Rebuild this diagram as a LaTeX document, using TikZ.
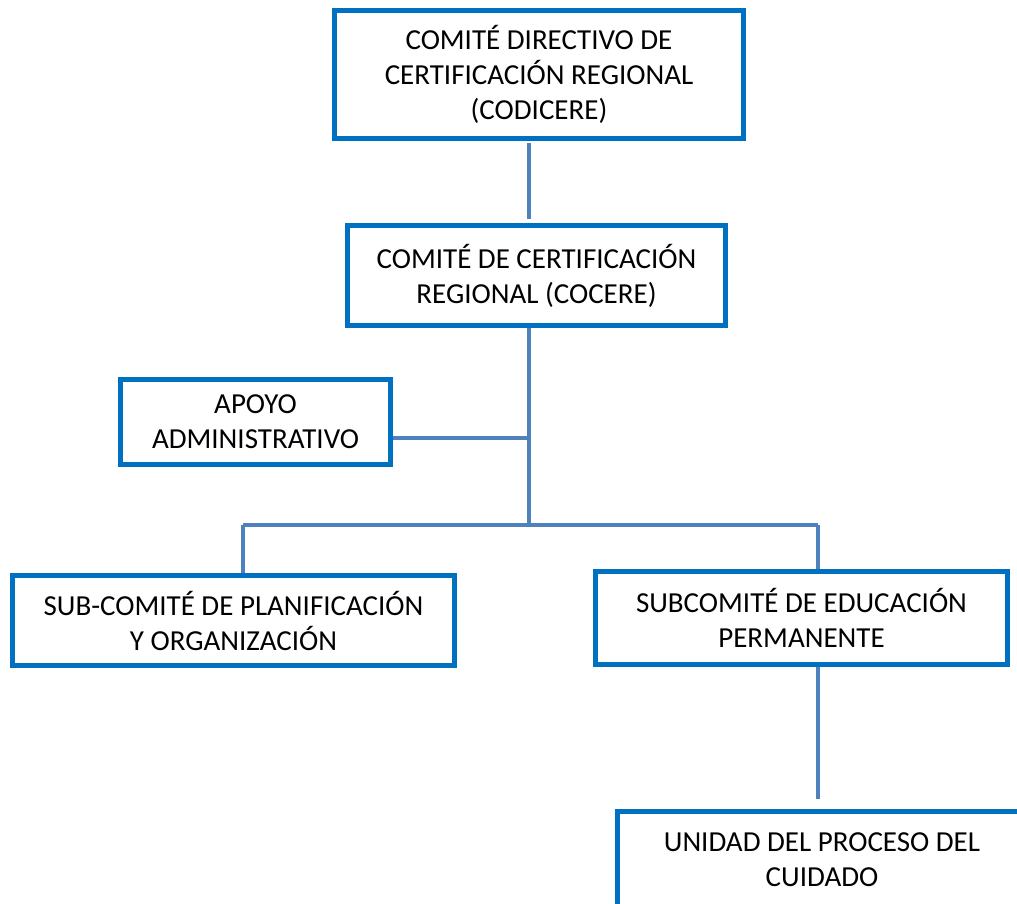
\documentclass[tikz,border=0pt]{standalone}
\usepackage{fontspec}
\setmainfont{Carlito}
\definecolor{boxblue}{HTML}{0070C0}
\definecolor{linkblue}{HTML}{4F81BD}
\tikzset{
  orgbox/.style={draw=boxblue, line width=5pt, fill=white, rectangle, align=center,
    inner sep=0pt, font=\fontsize{29}{35}\selectfont},
  link/.style={draw=linkblue, line width=3.5pt}
}
\begin{document}
\begin{tikzpicture}[x=1pt,y=-1pt]
\useasboundingbox (0,0) rectangle (1017,903);
\clip (0,0) rectangle (1017,903);
\fill[white] (0,0) rectangle (1017,903);
\coordinate (trunk) at (529,0);
\coordinate (ja) at (529,438);
\coordinate (jb) at (529,525);
\coordinate (jl) at (243,525);
\coordinate (jr) at (818,525);
\node[orgbox, minimum width=409pt, minimum height=128pt] (codicere) at (539,74.5)
  {COMITÉ DIRECTIVO DE\\CERTIFICACIÓN REGIONAL\\(CODICERE)};
\node[orgbox, minimum width=378pt, minimum height=100pt] (cocere) at (536.5,275.5)
  {COMITÉ DE CERTIFICACIÓN\\REGIONAL (COCERE)};
\node[orgbox, minimum width=270pt, minimum height=85pt] (apoyo) at (255.5,422)
  {APOYO\\ADMINISTRATIVO};
\node[orgbox, minimum width=442pt, minimum height=90pt] (plan) at (233.5,620.5)
  {SUB-COMITÉ DE PLANIFICACIÓN\\Y ORGANIZACIÓN};
\node[orgbox, minimum width=412pt, minimum height=93pt] (edu) at (801.5,618)
  {SUBCOMITÉ DE EDUCACIÓN\\PERMANENTE};
\node[orgbox, minimum width=409pt, minimum height=97pt] (unidad) at (822,860)
  {UNIDAD DEL PROCESO DEL\\CUIDADO};
\draw[link, shorten <=2pt, shorten >=4pt] (codicere.south -| trunk) -- (cocere.north -| trunk);
\draw[link] (cocere.south -| trunk) -- ([yshift=2pt]jb);
\draw[link] (ja -| apoyo.east) -- (ja);
\draw[link] (jl) -- (jr);
\draw[link] (jl) -- (plan.north -| jl);
\draw[link] (jr) -- (edu.north -| jr);
\draw[link, shorten >=10pt] (edu.south -| jr) -- (unidad.north -| jr);
\end{tikzpicture}
\end{document}
